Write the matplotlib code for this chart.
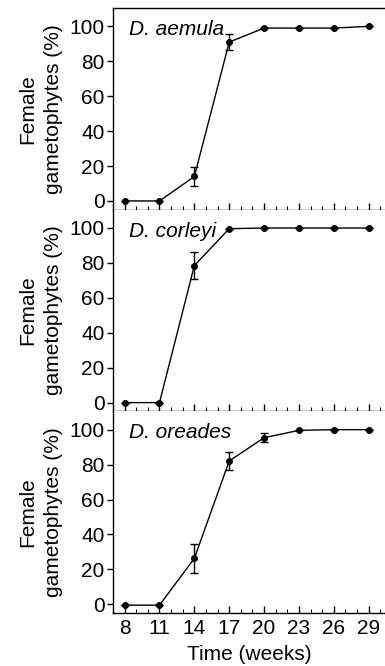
import matplotlib.pyplot as plt
from matplotlib.ticker import MultipleLocator

plt.rcParams['font.family'] = ['Liberation Sans', 'DejaVu Sans']

weeks = [8, 11, 14, 17, 20, 23, 26, 29]

species = ['D. aemula', 'D. corleyi', 'D. oreades']

aemula = [0, 0, 14, 91, 99, 99, 99, 100]
aemula_err = [0, 0, 5.7, 4.5, 0, 0, 0, 0]

corleyi = [0, 0, 78.5, 99.6, 100, 100, 100, 100]
corleyi_err = [0, 0, 7.8, 0, 0, 0, 0, 0]

oreades = [-0.5, -0.5, 26.3, 82.1, 95.4, 99.6, 100, 100]
oreades_err = [0, 0, 8.5, 5.3, 2.6, 0, 0, 0]

series = [(aemula, aemula_err), (corleyi, corleyi_err), (oreades, oreades_err)]

fs = 15
fig = plt.figure(figsize=(3.85, 6.66), dpi=100)
left, width = 113 / 385, 1 - 113 / 385
top = 1 - 8 / 666
h = (613 - 8) / 666 / 3

for i, (name, (vals, errs)) in enumerate(zip(species, series)):
    ax = fig.add_axes([left, top - (i + 1) * h, width, h])
    ax.errorbar(weeks, vals, yerr=errs, fmt='-o', color='black', lw=1, ms=4,
                capsize=3, elinewidth=1, capthick=1)
    ax.set_xlim(7, 30.4)
    ax.set_ylim(-5, 110.5)
    ax.set_yticks([0, 20, 40, 60, 80, 100])
    ax.set_xticks(weeks)
    ax.xaxis.set_minor_locator(MultipleLocator(1))
    ax.tick_params(axis='x', which='major', direction='in', length=5, width=1)
    ax.tick_params(axis='x', which='minor', direction='in', length=3, width=0.8)
    ax.tick_params(axis='y', direction='out', length=4, width=1, labelsize=fs, pad=2)
    ax.tick_params(axis='x', labelsize=fs, pad=4)
    ax.spines['right'].set_visible(False)
    if i > 0:
        ax.spines['top'].set_visible(False)
    for s in ax.spines.values():
        s.set_linewidth(1)
    ax.set_ylabel('Female\ngametophytes (%)', fontsize=fs, linespacing=1.45, labelpad=5)
    ax.text(0.059, 0.94, name, transform=ax.transAxes, style='italic', fontsize=fs,
            va='top', ha='left')
    if i < 2:
        ax.tick_params(axis='x', labelbottom=False)
    else:
        ax.set_xlabel('Time (weeks)', fontsize=fs, labelpad=5)

fig.savefig('out.png', dpi=100)
